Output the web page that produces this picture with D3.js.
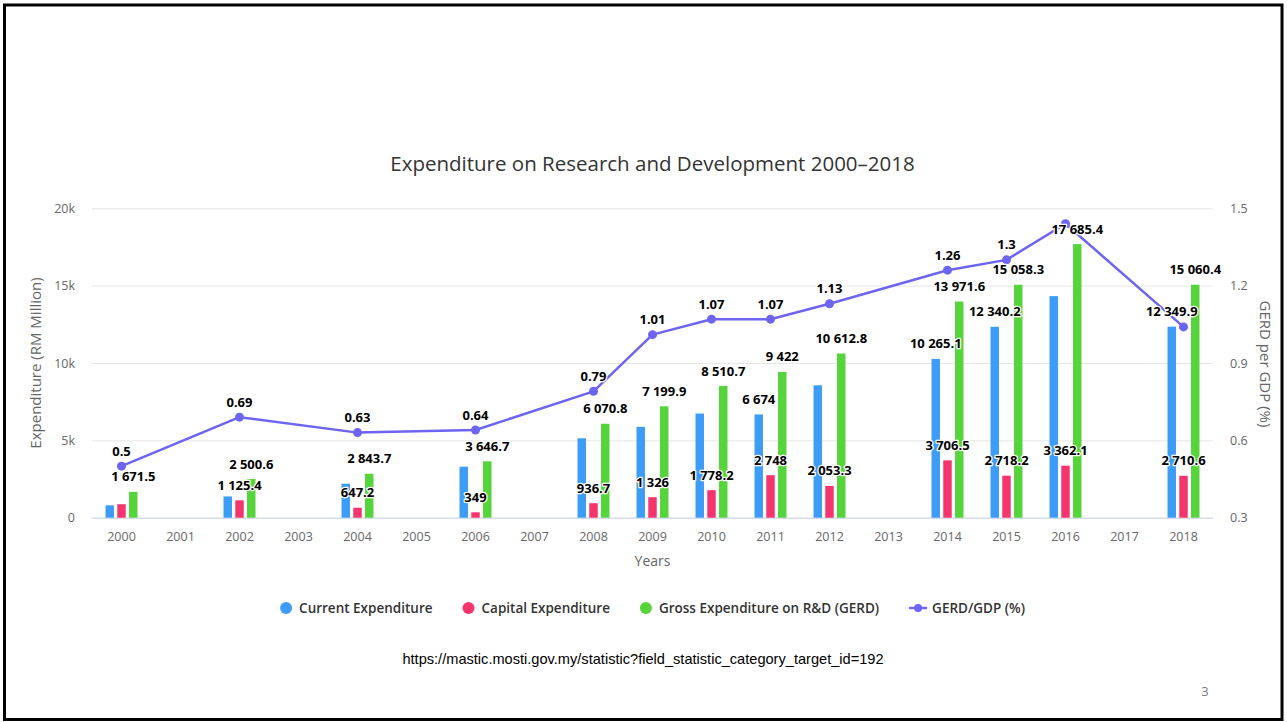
<!DOCTYPE html>
<html><head><meta charset="utf-8">
<script src="https://cdn.jsdelivr.net/npm/d3@7"></script>
<style>body{margin:0;background:#fff}svg{display:block}</style>
</head><body>
<svg id="c" width="1287" height="722"></svg>
<script>
// ---------- data ----------
const years = ["2000","2001","2002","2003","2004","2005","2006","2007","2008","2009","2010","2011","2012","2013","2014","2015","2016","2017","2018"];
const currentExp = [800, null, 1375.2, null, 2196.5, null, 3297.7, null, 5134.1, 5873.9, 6732.5, 6674, 8559.5, null, 10265.1, 12340.2, 14323.3, null, 12349.9];
const capitalExp = [871.5, null, 1125.4, null, 647.2, null, 349, null, 936.7, 1326, 1778.2, 2748, 2053.3, null, 3706.5, 2718.2, 3362.1, null, 2710.6];
const gerdValues = [1671.5, null, 2500.6, null, 2843.7, null, 3646.7, null, 6070.8, 7199.9, 8510.7, 9422, 10612.8, null, 13971.6, 15058.3, 17685.4, null, 15060.4];
const gerdPerGdp = [0.5, null, 0.69, null, 0.63, null, 0.64, null, 0.79, 1.01, 1.07, 1.07, 1.13, null, 1.26, 1.3, 1.44, null, 1.04];
const leftTicks = [0, 5000, 10000, 15000, 20000];
const leftTickLabels = ["0", "5k", "10k", "15k", "20k"];
const rightTicks = [0.3, 0.6, 0.9, 1.2, 1.5];
const seriesNames = ["Current Expenditure", "Capital Expenditure", "Gross Expenditure on R&D (GERD)", "GERD/GDP (%)"];
const titleText = "Expenditure on Research and Development 2000–2018";
const sourceText = "https://mastic.mosti.gov.my/statistic?field_statistic_category_target_id=192";

// ---------- setup ----------
const svg = d3.select("#c");
const FONT = "'Open Sans', sans-serif";
const plot = {l: 92, r: 1213, t: 208.3, b: 517.7};
const colors = {current: "#3d9df6", capital: "#f5356d", gerd: "#55d43b", line: "#6d64f1"};

svg.append("rect").attr("x", 4.5).attr("y", 5).attr("width", 1277.5).attr("height", 714.5)
  .attr("fill", "#fff").attr("stroke", "#000").attr("stroke-width", 3);

const x = d3.scaleBand().domain(years).range([plot.l, plot.r]);
const keys = ["current", "capital", "gerd"];
const xi = d3.scaleBand().domain(keys).range([0, x.bandwidth()]).paddingInner(0.28).paddingOuter(1.15);
const yL = d3.scaleLinear().domain([0, 20000]).range([plot.b, plot.t]);
const yR = d3.scaleLinear().domain([0.3, 1.5]).range([plot.b, plot.t]);

// title
svg.append("text").attr("x", (plot.l + plot.r) / 2).attr("y", 171).attr("text-anchor", "middle")
  .attr("font-family", FONT).attr("font-size", 20.5).attr("fill", "#333").text(titleText);

// left axis + grid
const gL = svg.append("g").attr("transform", `translate(${plot.l},0)`)
  .call(d3.axisLeft(yL).tickValues(leftTicks).tickSize(-(plot.r - plot.l)).tickPadding(17)
    .tickFormat((d, i) => leftTickLabels[i]));
gL.select(".domain").remove();
gL.selectAll("line").attr("stroke", "#e6e6e6");
gL.selectAll("text").attr("fill", "#666").attr("font-family", FONT).attr("font-size", 12.5);

// right axis
const gR = svg.append("g").attr("transform", `translate(${plot.r},0)`)
  .call(d3.axisRight(yR).tickValues(rightTicks).tickSize(0).tickPadding(17).tickFormat(d3.format(".1f")));
gR.select(".domain").remove();
gR.selectAll("text").attr("fill", "#666").attr("font-family", FONT).attr("font-size", 12.5);

// x axis
const gX = svg.append("g").attr("transform", `translate(0,${plot.b})`)
  .call(d3.axisBottom(x).tickSize(0).tickPadding(14));
gX.select(".domain").remove();
gX.selectAll("text").attr("fill", "#666").attr("font-family", FONT).attr("font-size", 12.5);
svg.append("line").attr("x1", plot.l).attr("x2", plot.r).attr("y1", plot.b + 0.5).attr("y2", plot.b + 0.5)
  .attr("stroke", "#ccd6eb").attr("stroke-width", 1);

// axis titles
svg.append("text").attr("transform", `translate(41,363) rotate(-90)`).attr("text-anchor", "middle")
  .attr("font-family", FONT).attr("font-size", 15).attr("fill", "#666").text("Expenditure (RM Million)");
svg.append("text").attr("transform", `translate(1260,364) rotate(90)`).attr("text-anchor", "middle")
  .attr("font-family", FONT).attr("font-size", 15).attr("fill", "#666").text("GERD per GDP (%)");
svg.append("text").attr("x", (plot.l + plot.r) / 2).attr("y", 566).attr("text-anchor", "middle")
  .attr("font-family", FONT).attr("font-size", 14).attr("fill", "#666").text("Years");

// bars
const barSeries = [
  {key: "current", values: currentExp},
  {key: "capital", values: capitalExp},
  {key: "gerd", values: gerdValues}
];
const labels = [];
const fmtBar = d3.formatLocale({thousands: " ", decimal: ".", grouping: [3], currency: ["", ""]}).format(",.1~f");
const fmtLine = d3.format(".2~f");
const gBars = svg.append("g");
barSeries.forEach(s => {
  const data = years.map((yr, i) => ({yr, v: s.values[i]})).filter(d => d.v != null);
  gBars.selectAll(null).data(data).enter().append("rect")
    .attr("x", d => x(d.yr) + xi(s.key))
    .attr("width", xi.bandwidth())
    .attr("y", d => yL(d.v))
    .attr("height", d => yL(0) - yL(d.v))
    .attr("fill", colors[s.key]);
  data.forEach(d => labels.push({
    cx: x(d.yr) + xi(s.key) + xi.bandwidth() / 2,
    cy: yL(d.v) - 15,
    text: fmtBar(d.v),
    rank: yL(0) - yL(d.v)
  }));
});

// line
const lineData = years.map((yr, i) => ({yr, v: gerdPerGdp[i]})).filter(d => d.v != null);
svg.append("path").datum(lineData)
  .attr("d", d3.line().x(d => x(d.yr) + x.bandwidth() / 2).y(d => yR(d.v)))
  .attr("fill", "none").attr("stroke", colors.line).attr("stroke-width", 2.5).attr("stroke-linejoin", "round");
svg.append("g").selectAll("circle").data(lineData).enter().append("circle")
  .attr("cx", d => x(d.yr) + x.bandwidth() / 2).attr("cy", d => yR(d.v)).attr("r", 4.5)
  .attr("fill", colors.line);
lineData.forEach(d => labels.push({
  cx: x(d.yr) + x.bandwidth() / 2,
  cy: yR(d.v) - 15,
  text: fmtLine(d.v),
  rank: 0
}));

// data labels with overlap hiding
const gLab = svg.append("g");
labels.forEach(l => {
  l.node = gLab.append("text").attr("x", l.cx).attr("y", l.cy).attr("dy", "0.35em")
    .attr("text-anchor", "middle").attr("font-family", FONT).attr("font-size", 13).attr("font-weight", "bold")
    .attr("fill", "#000").attr("stroke", "#fff").attr("stroke-width", 2.5).attr("stroke-linejoin", "round")
    .attr("paint-order", "stroke").text(l.text);
  let b = l.node.node().getBBox();
  if (b.y < plot.t) {
    l.node.attr("y", l.cy + (plot.t - b.y));
    b = l.node.node().getBBox();
  }
  l.box = b;
});
const order = labels.slice().sort((a, b) => b.rank - a.rank);
const shown = [];
const hit = (a, b) => !(a.x + a.width <= b.x || b.x + b.width <= a.x || a.y + a.height <= b.y || b.y + b.height <= a.y);
order.forEach(l => {
  if (shown.some(s => hit(s.box, l.box))) l.node.remove();
  else shown.push(l);
});

// legend
const gLeg = svg.append("g");
let lx = 0;
const legendItems = [
  {name: seriesNames[0], key: "current", type: "circle"},
  {name: seriesNames[1], key: "capital", type: "circle"},
  {name: seriesNames[2], key: "gerd", type: "circle"},
  {name: seriesNames[3], key: "line", type: "line"}
];
legendItems.forEach(it => {
  const g = gLeg.append("g").attr("transform", `translate(${lx},0)`);
  let tx;
  if (it.type === "circle") {
    g.append("circle").attr("cx", 6).attr("cy", 0).attr("r", 6).attr("fill", colors[it.key]);
    tx = 19;
  } else {
    g.append("line").attr("x1", 0).attr("x2", 18).attr("y1", 0).attr("y2", 0)
      .attr("stroke", colors.line).attr("stroke-width", 2.5);
    g.append("circle").attr("cx", 9).attr("cy", 0).attr("r", 4).attr("fill", colors.line);
    tx = 23;
  }
  const t = g.append("text").attr("x", tx).attr("y", 0).attr("dy", "0.35em").attr("font-family", FONT)
    .attr("font-size", 13.5).attr("fill", "#333").attr("font-weight", 600).text(it.name);
  lx += tx + t.node().getComputedTextLength() + 30;
});
lx -= 30;
gLeg.attr("transform", `translate(${(plot.l + plot.r) / 2 - lx / 2},608)`);

// source + page number
svg.append("text").attr("x", 643).attr("y", 664).attr("text-anchor", "middle")
  .attr("font-family", "'Liberation Sans', Arial, sans-serif").attr("font-size", 14.6).attr("fill", "#000").text(sourceText);
svg.append("text").attr("x", 1205).attr("y", 696).attr("text-anchor", "middle")
  .attr("font-family", FONT).attr("font-size", 13).attr("fill", "#777").text("3");
</script>
</body></html>
